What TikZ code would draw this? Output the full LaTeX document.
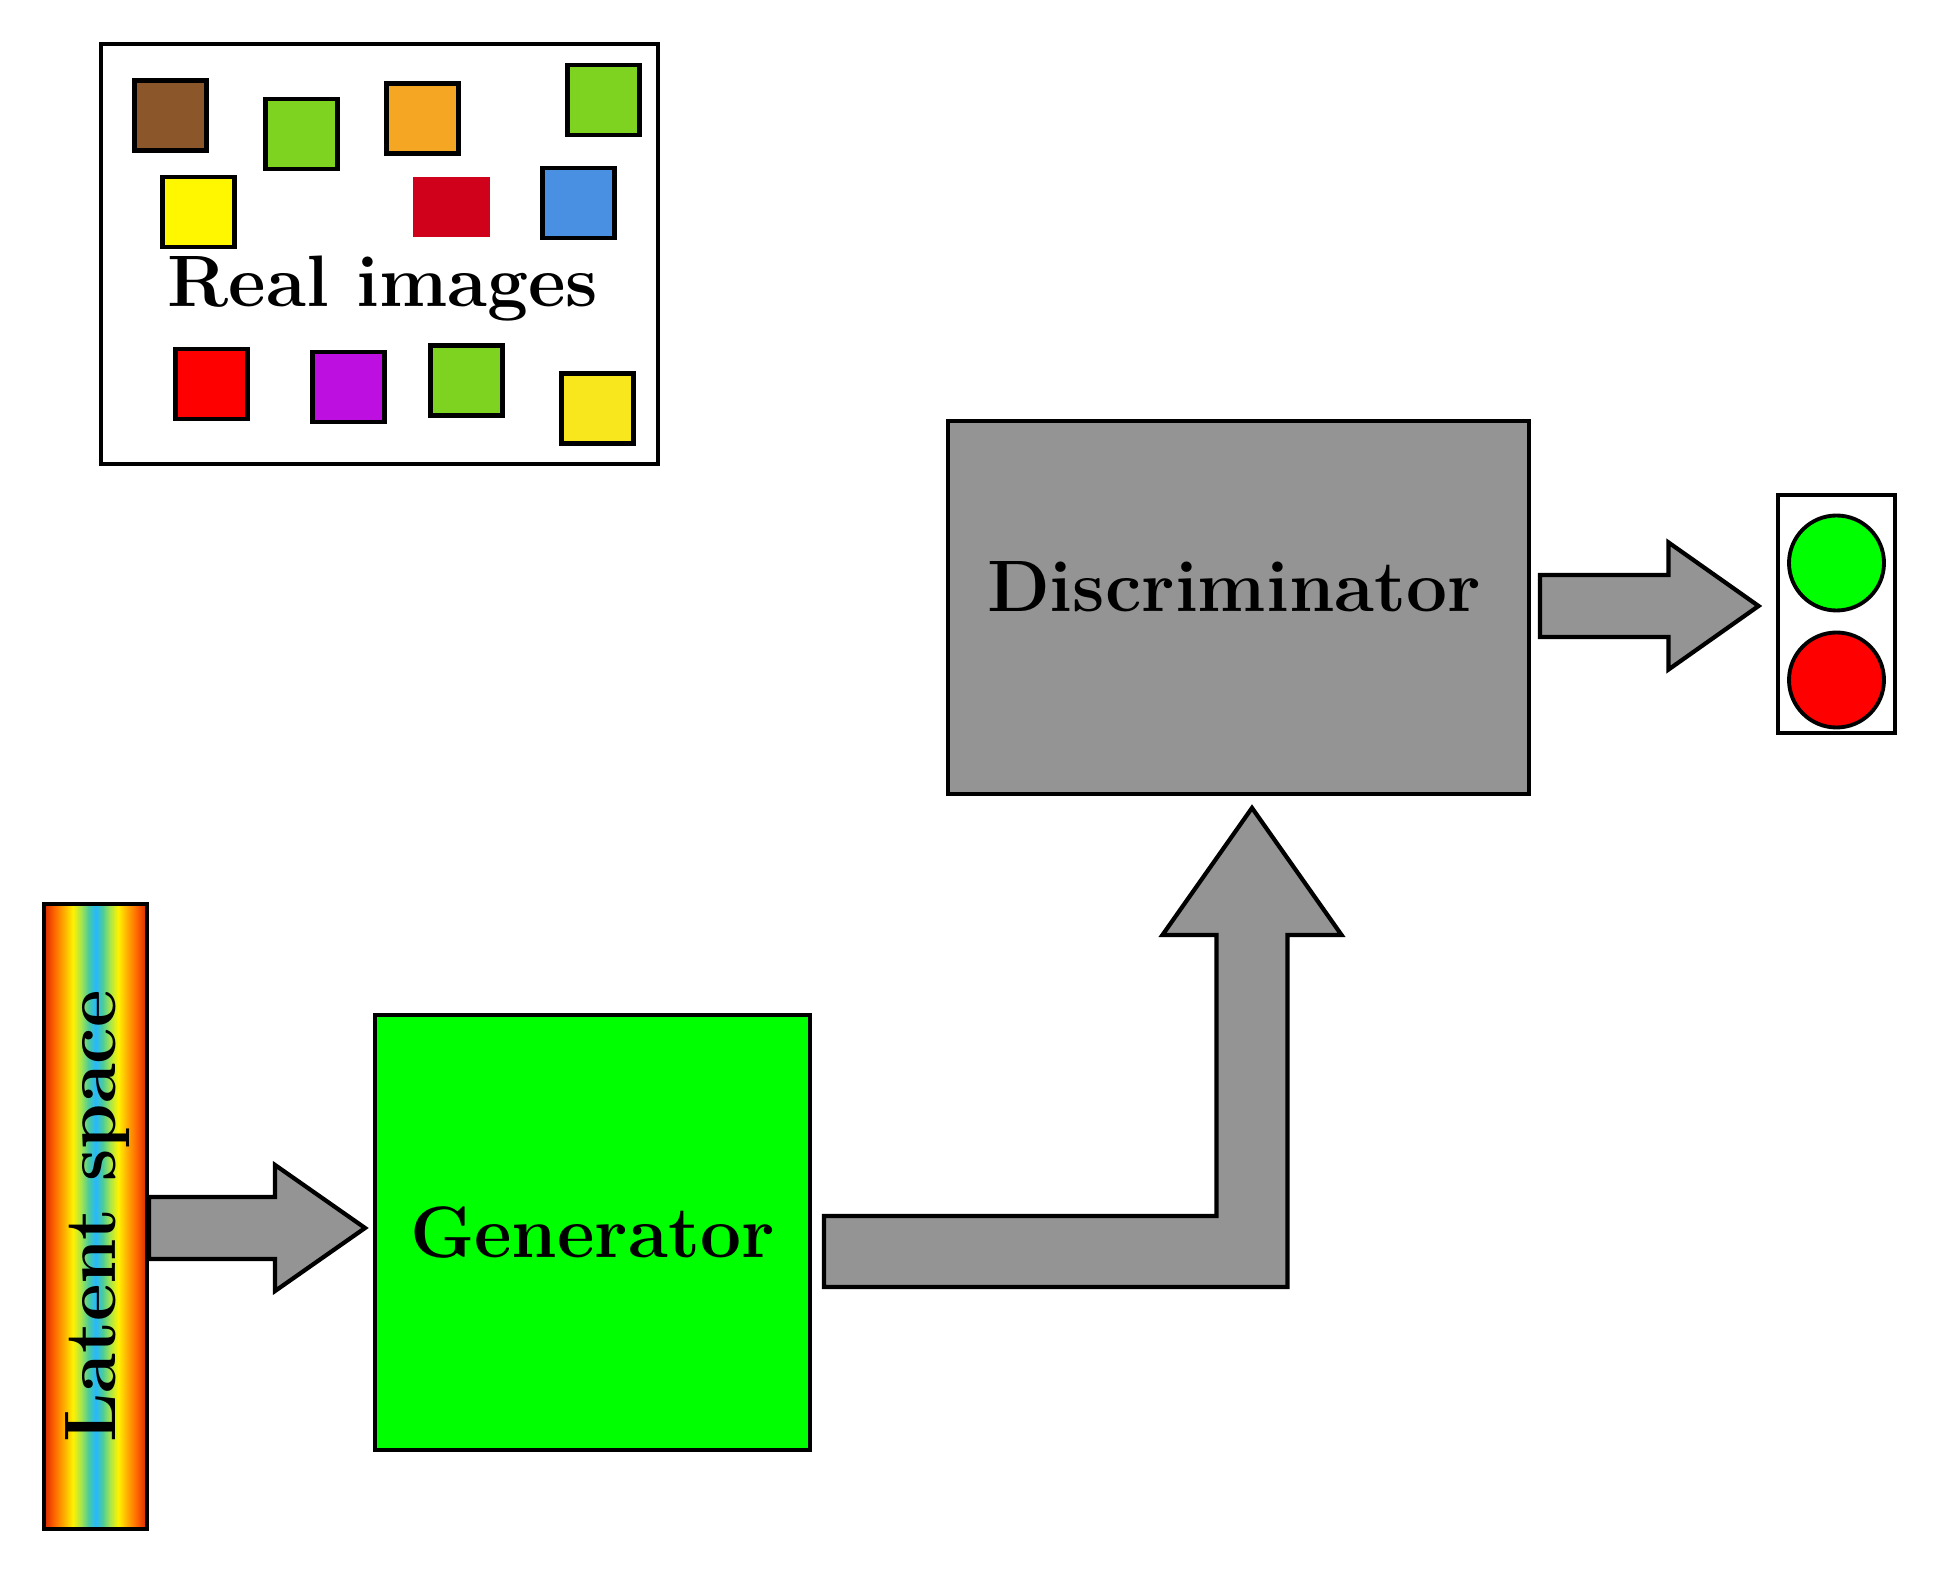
\documentclass[tikz,border=0pt]{standalone}
\usetikzlibrary{calc}
\definecolor{grey500}  {HTML}{949494}
\definecolor{brown500} {HTML}{8B572A}
\definecolor{lime500}  {HTML}{7ED321}
\definecolor{orange500}{HTML}{F5A623}
\definecolor{yellow500}{HTML}{F8E71C}
\definecolor{yellow400}{HTML}{FFF700}
\definecolor{red600}   {HTML}{D0021B}
\definecolor{red500}   {HTML}{FF0000}
\definecolor{blue500}  {HTML}{4A90E2}
\definecolor{purple500}{HTML}{BD10E0}
\definecolor{green500} {HTML}{00FF00}
\pgfdeclarehorizontalshading{latentbar}{100bp}{%
  rgb(0bp)=(0.85,0.15,0); rgb(25bp)=(0.85,0.15,0); rgb(30bp)=(1,0.4,0);
  rgb(35bp)=(1,0.7,0); rgb(39bp)=(1,0.95,0); rgb(43bp)=(0.65,0.9,0.3);
  rgb(46.5bp)=(0.3,0.8,0.6); rgb(50bp)=(0.15,0.72,1); rgb(53.5bp)=(0.3,0.8,0.6);
  rgb(57bp)=(0.65,0.9,0.3); rgb(61bp)=(1,0.95,0); rgb(65bp)=(1,0.7,0);
  rgb(70bp)=(1,0.4,0); rgb(75bp)=(0.85,0.15,0); rgb(100bp)=(0.85,0.15,0)}
\tikzset{
  bigtext/.style ={font=\fontsize{20.74}{25}\selectfont\bfseries},
  block/.style   ={draw=black, line width=1.1pt, inner sep=0pt, bigtext},
  imgsq/.style   ={draw=black, line width=1.2pt, inner sep=0pt,
                   minimum width=0.72cm, minimum height=0.70cm},
  lamp/.style    ={circle, draw=black, line width=1.1pt, inner sep=0pt,
                   minimum size=0.95cm},
  blockar/.style ={draw=black, line width=1.2pt, fill=grey500, line join=miter}
}

\begin{document}
\begin{tikzpicture}
\useasboundingbox (0,0) rectangle (19.39,-15.74);

% real images
\node[block, fill=white, minimum width=5.57cm, minimum height=4.20cm]
  (real) at (3.795,-2.54) {};
\node[imgsq, fill=brown500]  (sq1)  at (1.705,-1.155) {};
\node[imgsq, fill=lime500]   (sq2)  at (3.015,-1.34)  {};
\node[imgsq, fill=orange500] (sq3)  at (4.225,-1.185) {};
\node[imgsq, fill=lime500]   (sq4)  at (6.035,-1.00)  {};
\node[imgsq, fill=yellow400] (sq5)  at (1.985,-2.12)  {};
\node[imgsq, draw=none, fill=red600, minimum width=0.77cm,
      minimum height=0.60cm] (sq6)  at (4.515,-2.07)  {};
\node[imgsq, fill=blue500]   (sq7)  at (5.785,-2.03)  {};
\node[imgsq, fill=red500]    (sq8)  at (2.115,-3.84)  {};
\node[imgsq, fill=purple500] (sq9)  at (3.485,-3.87)  {};
\node[imgsq, fill=lime500]   (sq10) at (4.665,-3.805) {};
\node[imgsq, fill=yellow500] (sq11) at (5.975,-4.085) {};
\node[bigtext, anchor=base] (reallabel) at (3.83,-3.07) {Real images};

% latent space, generator, discriminator, output
\node[block, shading=latentbar, minimum width=1.03cm, minimum height=6.25cm]
  (latent) at (0.955,-12.165) {};
\node[bigtext, rotate=90] (latentlabel) at (0.98,-12.165) {Latent space};
\node[block, fill=green500, minimum width=4.35cm, minimum height=4.35cm]
  (gen) at (5.925,-12.325) {Generator};
\node[block, fill=grey500, minimum width=5.81cm, minimum height=3.73cm]
  (disc) at (12.385,-6.075) {};
\node[bigtext, anchor=base] (disclabel) at ($(disc.center)+(-0.045,-0.045)$)
  {Discriminator};
\node[block, fill=white, minimum width=1.17cm, minimum height=2.38cm]
  (light) at (18.365,-6.14) {};
\node[lamp, fill=green500] (yes) at (18.365,-5.63) {};
\node[lamp, fill=red500]   (no)  at (18.365,-6.80) {};

% fat arrows
\coordinate (a1e) at ($(gen.west)+(-0.08,0.045)$);
\coordinate (a1s) at (latent.east |- a1e);
\draw[blockar] let \p1=(a1s), \p2=(a1e) in
  (\x1,\y1+0.31cm) -- (\x2-0.9cm,\y1+0.31cm) -- (\x2-0.9cm,\y1+0.63cm)
  -- (\x2,\y2) -- (\x2-0.9cm,\y1-0.63cm) -- (\x2-0.9cm,\y1-0.31cm)
  -- (\x1,\y1-0.31cm) -- cycle;

\coordinate (gout) at ($(gen.east)+(0.12,-0.19)$);
\coordinate (din)  at ($(disc.south)+(0.135,-0.12)$);
\draw[blockar] let \p1=(gout), \p2=(din) in
  (\x1,\y1+0.355cm) -- (\x2-0.355cm,\y1+0.355cm) -- (\x2-0.355cm,\y2-1.27cm)
  -- (\x2-0.895cm,\y2-1.27cm) -- (\x2,\y2) -- (\x2+0.895cm,\y2-1.27cm)
  -- (\x2+0.355cm,\y2-1.27cm) -- (\x2+0.355cm,\y1-0.355cm)
  -- (\x1,\y1-0.355cm) -- cycle;

\coordinate (a2s) at ($(disc.east)+(0.09,0.015)$);
\coordinate (a2e) at ($(light.west |- a2s)+(-0.175,0)$);
\draw[blockar] let \p1=(a2s), \p2=(a2e) in
  (\x1,\y1+0.31cm) -- (\x2-0.9cm,\y1+0.31cm) -- (\x2-0.9cm,\y1+0.635cm)
  -- (\x2,\y2) -- (\x2-0.9cm,\y1-0.635cm) -- (\x2-0.9cm,\y1-0.31cm)
  -- (\x1,\y1-0.31cm) -- cycle;
\end{tikzpicture}
\end{document}
